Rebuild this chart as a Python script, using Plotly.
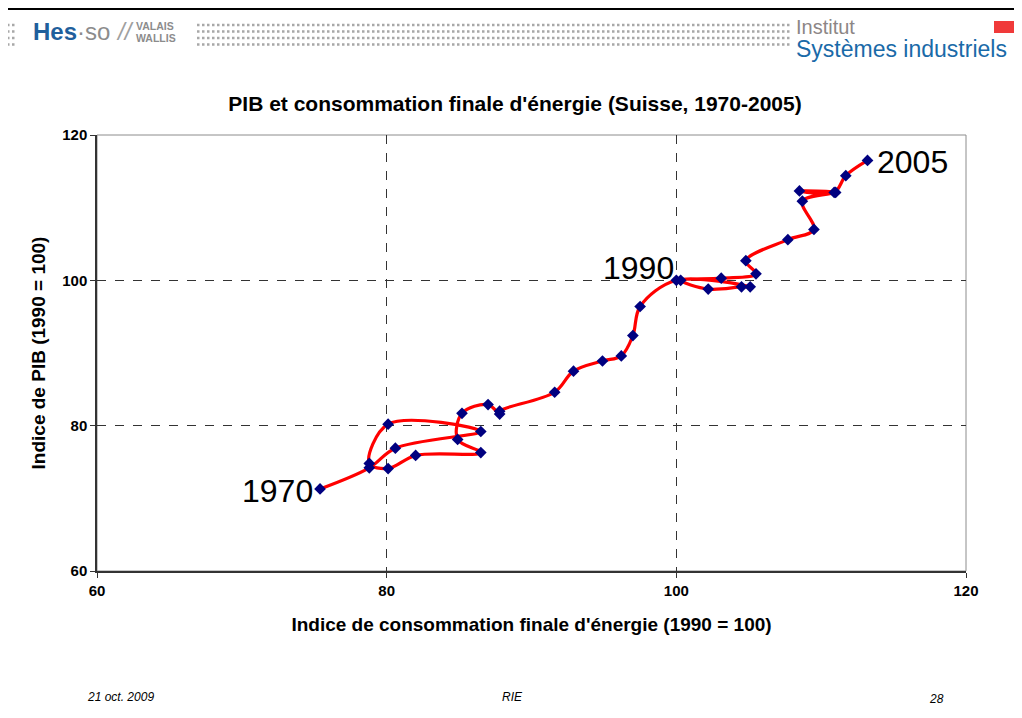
"""PIB et consommation finale d'énergie (Suisse, 1970-2005)"""

import plotly.graph_objects as go

years = list(range(1970, 2006))
energie = [75.4, 78.8, 80.6, 86.5, 80.1, 78.8, 80.1, 82.0, 86.5, 84.9,
           85.2, 87.0, 87.8, 87.8, 91.6, 92.9, 94.9, 96.2, 97.0, 97.5,
           100.0, 105.1, 104.5, 102.2, 100.3, 103.1, 105.5, 104.8, 107.7, 109.5,
           108.7, 111.0, 108.5, 110.9, 111.7, 113.2]
pib = [71.3, 74.2, 76.9, 79.2, 80.2, 74.8, 74.1, 75.9, 76.3, 78.1,
       81.7, 82.9, 81.6, 82.0, 84.6, 87.5, 88.9, 89.6, 92.4, 96.4,
       100.0, 99.1, 99.1, 98.8, 100.0, 100.3, 100.9, 102.7, 105.6, 107.0,
       110.9, 112.1, 112.3, 112.1, 114.4, 116.5]
labelled_years = [1970, 1990, 2005]
axis_ticks = [60, 80, 100, 120]

FONT = "Arial, 'Liberation Sans', sans-serif"

# the page body has an 8px margin, so the figure is drawn 8px down/right
OFF = 8
W, H = 1022 - OFF, 718 - OFF
# plot area in page pixels
PL, PR, PT, PB = 97, 966, 135, 571


def px(x):
    return (x - PL) / (PR - PL)


def py(y):
    return (PB - y) / (PB - PT)


fig = go.Figure()
fig.add_trace(go.Scatter(
    x=energie, y=pib,
    mode="lines+markers",
    line=dict(color="#ff0000", width=3.2, shape="spline", smoothing=1.0),
    marker=dict(symbol="diamond", size=9, color="#000080"),
    hoverinfo="text",
    text=[str(a) for a in years],
    showlegend=False,
))

annotations = []
# year labels
for yr in labelled_years:
    i = years.index(yr)
    if yr == 2005:
        annotations.append(dict(x=energie[i], y=pib[i], text=str(yr), showarrow=False,
                                xanchor="left", xshift=7, yshift=-2,
                                font=dict(size=32, color="black", family=FONT)))
    else:
        annotations.append(dict(x=energie[i], y=pib[i], text=str(yr), showarrow=False,
                                xanchor="right", xshift=-5 if yr == 1970 else 0,
                                yshift=-2 if yr == 1970 else 12,
                                font=dict(size=32, color="black", family=FONT)))


def paper_text(x, y, text, size, color, xanchor="left", yanchor="middle", **kw):
    annotations.append(dict(x=px(x), y=py(y), xref="paper", yref="paper", text=text,
                            showarrow=False, xanchor=xanchor, yanchor=yanchor,
                            font=dict(size=size, color=color, family=FONT), **kw))


# header
paper_text(31, 31, "<b><span style='color:#1f5f9c'>Hes</span></b>"
                   "<span style='color:#8c8c8c'>·so</span>", 24, "#8c8c8c")
paper_text(114, 31, "<i>//</i>", 24, "#a0a0a0")
paper_text(134, 25.5, "<b>VALAIS</b>", 10.5, "#8c8c8c")
paper_text(134, 37.5, "<b>WALLIS</b>", 10.5, "#8c8c8c")
paper_text(794, 27, "Institut", 20, "#8c8686")
paper_text(794, 49, "Systèmes industriels", 23, "#1a6aa8")

# footer
paper_text(85, 697, "<i>21 oct. 2009</i>", 12, "black")
paper_text(512, 697, "<i>RIE</i>", 12, "black", xanchor="center")
paper_text(946, 699, "<i>28</i>", 12, "black", xanchor="right")

shapes = [
    # plot frame (grey top/right)
    dict(type="rect", xref="paper", yref="paper", x0=0, x1=1, y0=0, y1=1,
         line=dict(color="#8c8c8c", width=1), layer="below"),
    # header rule
    dict(type="line", xref="paper", yref="paper", x0=px(0), x1=px(1030), y0=py(8.5), y1=py(8.5),
         line=dict(color="black", width=3)),
    # red block
    dict(type="rect", xref="paper", yref="paper", x0=px(994), x1=px(1030), y0=py(21), y1=py(33),
         line=dict(width=0), fillcolor="#f03a3a"),
]
for row_y in [25, 31.5, 38, 44.5]:
    for x0, x1 in [(7, 16), (197, 792)]:
        shapes.append(dict(type="line", xref="paper", yref="paper",
                           x0=px(x0), x1=px(x1), y0=py(row_y), y1=py(row_y),
                           line=dict(color="#a8a8a8", width=2.5, dash="2.5px,2.5px")))

axis_common = dict(
    range=[60, 120], tickvals=axis_ticks, ticktext=[f"<b>{t}</b>" for t in axis_ticks],
    ticks="outside", ticklen=5, tickcolor="#333333",
    showline=True, linecolor="#333333", linewidth=1.5,
    showgrid=True, gridcolor="#333333", gridwidth=1, griddash="dash",
    zeroline=False, tickfont=dict(size=15, color="black", family=FONT),
)

fig.update_layout(
    width=W, height=H,
    paper_bgcolor="white", plot_bgcolor="white",
    margin=dict(l=PL - OFF, r=W - (PR - OFF), t=PT - OFF, b=H - (PB - OFF), pad=0),
    title=dict(text="<b>PIB et consommation finale d'énergie (Suisse, 1970-2005)</b>",
               x=0.5, xanchor="center", y=1 - (104 - OFF) / H, yanchor="middle",
               font=dict(size=21, color="black", family=FONT)),
    xaxis=dict(**axis_common,
               title=dict(text="<b>Indice de consommation finale d'énergie (1990 = 100)</b>",
                          font=dict(size=19, color="black", family=FONT), standoff=20)),
    yaxis=dict(**axis_common,
               title=dict(text="<b>Indice de PIB (1990 = 100)</b>",
                          font=dict(size=19, color="black", family=FONT), standoff=12)),
    annotations=annotations,
    shapes=shapes,
)

fig.write_html("out.html")
